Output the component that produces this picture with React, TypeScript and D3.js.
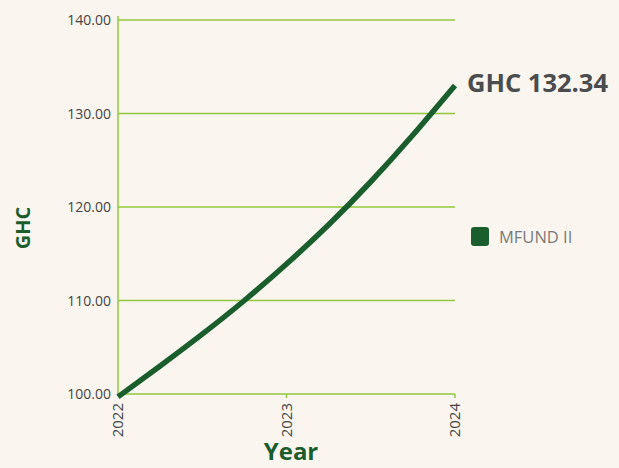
import { useEffect, useRef } from 'react'
import * as d3 from 'd3'

// years since start of 2022
const xYears = [0, 0.25, 0.5, 0.75, 1.0, 1.25, 1.5, 1.75, 2.0]
const navValues = [99.7, 103.0, 106.4, 110.0, 113.9, 118.1, 122.7, 127.7, 133.0]
const yTicks = [100, 110, 120, 130, 140]
const xTicks = [2022, 2023, 2024]
const seriesName = 'MFUND II'
const endLabel = 'GHC 132.34'

const GREEN = '#1a5e2e'
const GRID = '#93c83e'
const FONT = '"Open Sans", "Noto Sans", sans-serif'

export default function App() {
  const ref = useRef<SVGSVGElement>(null)

  useEffect(() => {
    if (!ref.current) return
    const svg = d3.select(ref.current)
    svg.selectAll('*').remove()

    const width = 619
    const height = 468
    const left = 118, right = 455, top = 20, bottom = 394

    svg.append('rect').attr('width', width).attr('height', height).attr('fill', '#faf6ef')

    const x = d3.scaleLinear().domain([2022, 2024]).range([left, right])
    const y = d3.scaleLinear().domain([100, 140]).range([bottom, top])

    // grid lines
    svg.append('g').selectAll('line')
      .data(yTicks)
      .join('line')
      .attr('x1', left).attr('x2', right)
      .attr('y1', d => y(d)).attr('y2', d => y(d))
      .attr('stroke', GRID).attr('stroke-width', 1.5)

    // y axis line
    svg.append('line')
      .attr('x1', left).attr('x2', left)
      .attr('y1', top - 4).attr('y2', bottom)
      .attr('stroke', GRID).attr('stroke-width', 1.5)

    // y tick labels
    svg.append('g').selectAll('text')
      .data(yTicks)
      .join('text')
      .attr('x', left - 7).attr('y', d => y(d) + 5)
      .attr('text-anchor', 'end')
      .attr('font-family', FONT).attr('font-size', '14px').attr('fill', '#444')
      .text(d => d3.format('.2f')(d))

    // x ticks
    svg.append('g').selectAll('line')
      .data(xTicks.slice(1))
      .join('line')
      .attr('x1', d => x(d)).attr('x2', d => x(d))
      .attr('y1', bottom).attr('y2', bottom + 4)
      .attr('stroke', GRID).attr('stroke-width', 1.5)

    svg.append('g').selectAll('text')
      .data(xTicks)
      .join('text')
      .attr('transform', d => `translate(${x(d) + 5},${bottom + 9}) rotate(-90)`)
      .attr('text-anchor', 'end')
      .attr('font-family', FONT).attr('font-size', '15px').attr('fill', '#444')
      .text(d => d)

    // series line
    const line = d3.line<number>()
      .x((_, i) => x(2022 + xYears[i]))
      .y(d => y(d))
      .curve(d3.curveNatural)

    svg.append('path')
      .datum(navValues)
      .attr('d', line)
      .attr('fill', 'none')
      .attr('stroke', GREEN)
      .attr('stroke-width', 5.5)

    // end label
    svg.append('text')
      .attr('x', 467).attr('y', 92)
      .attr('font-family', FONT).attr('font-size', '25.5px').attr('font-weight', 700)
      .attr('fill', '#4a4c4e')
      .text(endLabel)

    // legend
    svg.append('rect')
      .attr('x', 471).attr('y', 227).attr('width', 18).attr('height', 19)
      .attr('rx', 3).attr('fill', GREEN)
    svg.append('text')
      .attr('x', 499).attr('y', 243)
      .attr('font-family', FONT).attr('font-size', '16.5px').attr('fill', '#7a7a7a')
      .text(seriesName)

    // axis titles
    svg.append('text')
      .attr('transform', `translate(30,228) rotate(-90)`)
      .attr('text-anchor', 'middle')
      .attr('font-family', FONT).attr('font-size', '20px').attr('font-weight', 700)
      .attr('fill', GREEN)
      .text('GHC')

    svg.append('text')
      .attr('x', 291).attr('y', 460)
      .attr('text-anchor', 'middle')
      .attr('font-family', FONT).attr('font-size', '24px').attr('font-weight', 700)
      .attr('fill', GREEN)
      .text('Year')
  }, [])

  return (
    <svg ref={ref} width={619} height={468}
      style={{ position: 'absolute', left: 0, top: 0, display: 'block' }} />
  )
}
